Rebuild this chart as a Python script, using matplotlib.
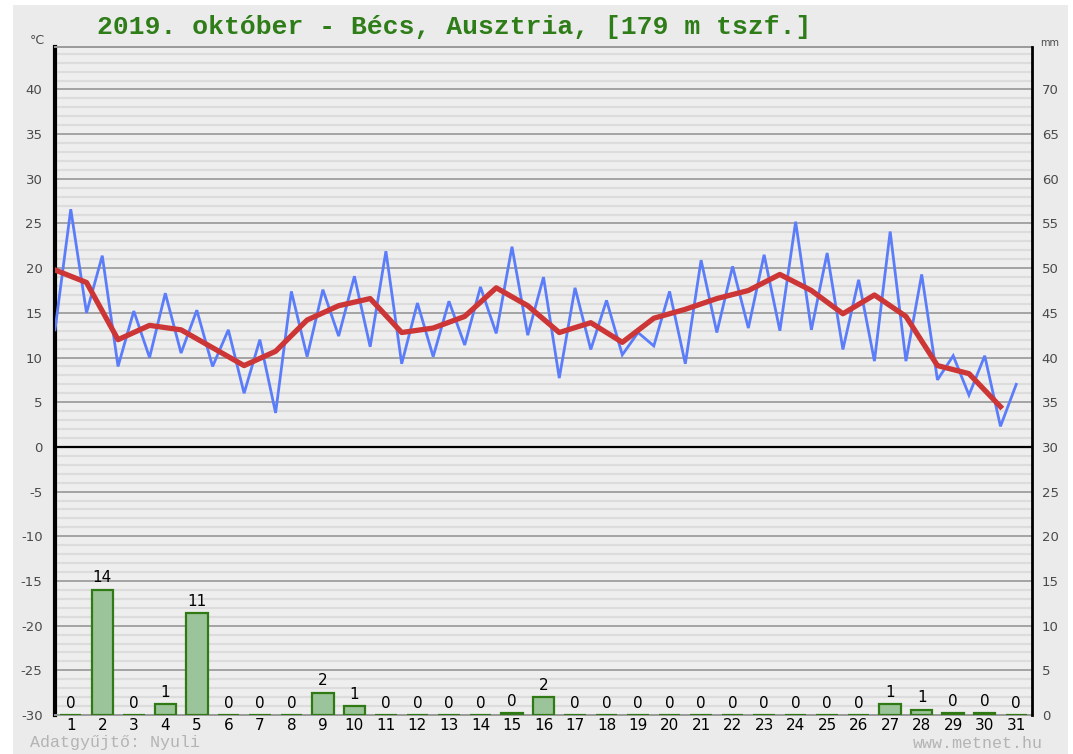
import numpy as np
import matplotlib
matplotlib.use("Agg")
import matplotlib.pyplot as plt
from matplotlib.patches import Rectangle

plt.rcParams['axes.unicode_minus'] = False

# daily data, October 2019, Vienna
days = list(range(1, 32))
tmin = [13.1, 15.0, 9.0, 10.0, 10.5, 9.0, 6.0, 3.8, 10.1, 12.4, 11.2, 9.3, 10.1, 11.4, 12.7, 12.5,
        7.7, 10.9, 10.3, 11.3, 9.3, 12.8, 13.3, 13.0, 13.1, 10.9, 9.6, 9.6, 7.5, 5.8, 2.3]
tmax = [26.6, 21.4, 15.2, 17.2, 15.3, 13.1, 12.0, 17.4, 17.6, 19.1, 21.9, 16.1, 16.3, 17.9, 22.4, 19.0,
        17.8, 16.4, 12.8, 17.4, 20.9, 20.2, 21.5, 25.2, 21.7, 18.7, 24.1, 19.3, 10.2, 10.2, 7.0]
tmean = [19.8, 18.4, 12.0, 13.6, 13.1, 11.1, 9.1, 10.7, 14.2, 15.8, 16.6, 12.8, 13.3, 14.6, 17.8, 15.8,
         12.8, 13.9, 11.7, 14.4, 15.4, 16.6, 17.5, 19.3, 17.5, 14.9, 17.0, 14.6, 9.1, 8.2, 4.5]
precip = [0, 14.0, 0, 1.2, 11.4, 0, 0, 0, 2.5, 1.0, 0, 0, 0, 0, 0.2, 2.0,
          0, 0, 0, 0, 0, 0, 0, 0, 0, 0, 1.2, 0.6, 0.2, 0.2, 0]
title = "2019. október - Bécs, Ausztria, [179 m tszf.]"

W, H = 1073, 754
fig = plt.figure(figsize=(W/100, H/100), dpi=100)
fig.patch.set_facecolor('white')
fig.patches.append(Rectangle((13/W, 0), (1068-13)/W, 1-5/H, transform=fig.transFigure,
                             facecolor='#ebebeb', edgecolor='none', zorder=-10))

ax = fig.add_axes([55/W, 1-715/H, (1032-55)/W, (715-47)/H])
ax.set_facecolor('#eeeeee')
ylo, yhi = -30, 44.75
ax.set_xlim(0.5, 31.5)
ax.set_ylim(ylo, yhi)

# grid
for v in range(-30, 45):
    if v % 5 == 0:
        ax.axhline(v, color='#a3a3a3', lw=1.4, zorder=1)
    else:
        ax.axhline(v, color='#dcdcdc', lw=1.6, zorder=0.5)
ax.axhline(0, color='black', lw=1.6, zorder=2)

# temperatures: min at day start, max at midday
xb = []
yb = []
for i, d in enumerate(days):
    xb += [d-0.5, d]
    yb += [tmin[i], tmax[i]]
ax.plot(xb, yb, color='#5c7dfa', lw=2.0, zorder=3, solid_joinstyle='miter')
ax.plot(np.array(days)-0.5, tmean, color='#cc3636', lw=3.8, zorder=4)

ax.set_yticks(range(-30, 45, 5))
ax.set_xticks(days)
ax.tick_params(axis='y', length=0, pad=9, labelsize=9.5, labelcolor='#4a4a4a')
ax.tick_params(axis='x', length=0, pad=2, labelsize=11, labelcolor='black')
for s in ['top', 'bottom']:
    ax.spines[s].set_color('#9a9a9a')
    ax.spines[s].set_linewidth(1.4)
ax.spines['left'].set_color('black')
ax.spines['left'].set_linewidth(3)
ax.spines['right'].set_visible(False)

ax2 = ax.twinx()
ax2.set_ylim(ylo+30, yhi+30)
ax2.set_yticks(range(0, 75, 5))
ax2.tick_params(axis='y', length=0, pad=7, labelsize=9.5, labelcolor='#4a4a4a')
for s in ['top', 'bottom', 'left']:
    ax2.spines[s].set_visible(False)
ax2.spines['right'].set_color('black')
ax2.spines['right'].set_linewidth(2)

ax2.bar(days, precip, width=0.68, color='#9cc49a', edgecolor='#2f7a14', linewidth=1.6, zorder=5)
for d, p in zip(days, precip):
    ax2.text(d, p+0.5, str(int(round(p))), ha='center', va='bottom', fontsize=11, color='black', zorder=6)

fig.text(97/W, 1-27/H, title, family='Liberation Mono', fontsize=19, fontweight='bold',
         color='#2e7d18', ha='left', va='center')
fig.text(45/W, 1-40/H, '°C', fontsize=9, color='#4a4a4a', ha='right', va='center')
fig.text(1040/W, 1-43/H, 'mm', fontsize=7, color='#4a4a4a', ha='left', va='center')
fig.text(30/W, 1-743/H, 'Adatgyűjtő: Nyuli', family='Liberation Mono', fontsize=12,
         color='#b4b4b4', ha='left', va='center')
fig.text(1043/W, 1-743/H, 'www.metnet.hu', family='Liberation Mono', fontsize=12,
         color='#b4b4b4', ha='right', va='center')

fig.savefig('out.png', dpi=100)
